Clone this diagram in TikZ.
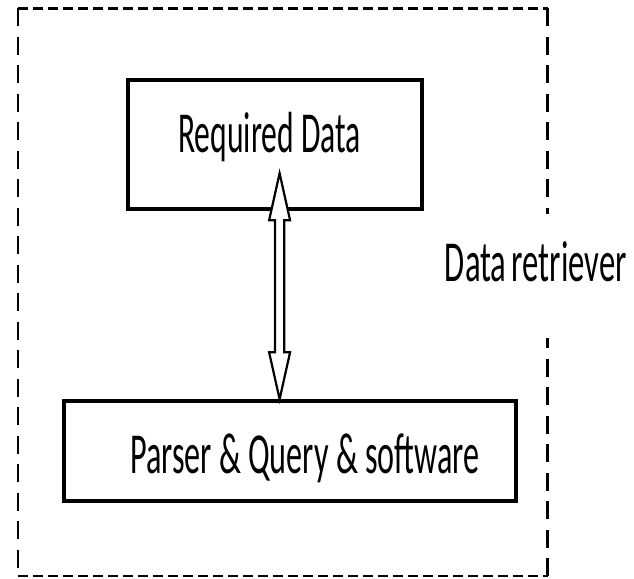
\documentclass[tikz,border=0pt]{standalone}
\usepackage{fontspec}
\setmainfont{Carlito}
\usetikzlibrary{calc}
\newcommand{\cond}[2]{\resizebox{#1}{\height}{\fontsize{58pt}{60pt}\selectfont #2}}
\begin{document}
\begin{tikzpicture}[x=1pt,y=-1pt,
  box/.style={draw=black, line width=3.6pt, inner sep=0pt, fill=white},
  lbl/.style={inner sep=0pt, anchor=base, text=black},
  hdash/.style={line width=2.8pt, dash pattern=on 9.5pt off 5.5pt},
  vdash/.style={line width=2.6pt, dash pattern=on 18pt off 10.5pt},
  hollow/.style={draw=black, line width=2.2pt, fill=white, line join=miter}]
\useasboundingbox (0,0) rectangle (634,578);

% outer dashed frame, broken on the right for its label
\coordinate (nw) at (18,8.3);
\coordinate (ne) at (547.7,8.3);
\coordinate (sw) at (18,576);
\coordinate (se) at (547.7,576);
\coordinate (gapTop) at (547.7,214);
\coordinate (gapBot) at (547.7,338.3);
\draw[hdash] (nw) -- (ne);
\draw[hdash] (sw) -- (se);
\draw[vdash] (nw) -- (sw);
\draw[vdash] (ne) -- (gapTop);
\draw[vdash] (se) -- (gapBot);

% the two boxes
\node[box, minimum width=293.7pt, minimum height=129pt] (req) at (274.9,144.5) {};
\node[box, minimum width=452pt, minimum height=100pt] (par) at (290,451) {};

% box texts
\node[lbl] (reqtext) at (269.5,152.7) {\cond{182.4pt}{Required Data}};
\node[lbl] (partext) at (304.7,473.3) {\cond{349.3pt}{Parser \& Query \& software}};
\node[lbl] (frametext) at (535.8,281.7) {\cond{181.7pt}{Data\hspace{-0.07em} retriever}};

% hollow double-headed arrow between the boxes
\coordinate (T) at (279.6,173.3);
\coordinate (B) at (T |- par.north);
\draw[hollow] (T) -- ($(T)+(10.5,47)$) -- ($(T)+(4.6,47)$)
  -- ($(B)+(4.6,-47)$) -- ($(B)+(10.5,-47)$) -- (B)
  -- ($(B)+(-10.5,-47)$) -- ($(B)+(-4.6,-47)$)
  -- ($(T)+(-4.6,47)$) -- ($(T)+(-10.5,47)$) -- cycle;
\end{tikzpicture}
\end{document}
